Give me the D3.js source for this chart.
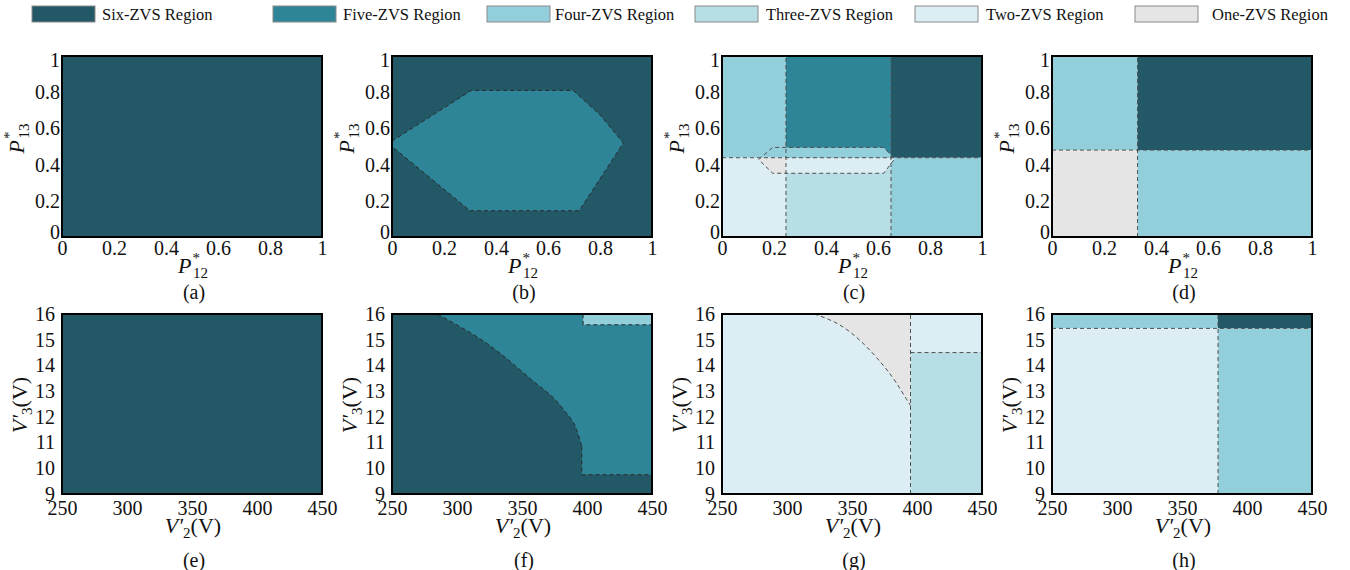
<!DOCTYPE html>
<html>
<head>
<meta charset="utf-8">
<script src="https://cdn.jsdelivr.net/npm/d3@7"></script>
<style>
  html, body { margin: 0; padding: 0; background: #fff; }
  svg { display: block; font-family: "Liberation Serif", "Times New Roman", serif; }
</style>
</head>
<body>
<script>
// ---- region classes (legend order) ----
const regionNames = ["Six-ZVS Region", "Five-ZVS Region", "Four-ZVS Region",
                     "Three-ZVS Region", "Two-ZVS Region", "One-ZVS Region"];
const regionFill = ["#235866", "#2f8598", "#93cfdb", "#b7dde5", "#dcedf3", "#e5e5e5"];
const SIX = 0, FIVE = 1, FOUR = 2, THREE = 3, TWO = 4, ONE = 5;

// ---- axis ticks ----
const p12Ticks = [0, 0.2, 0.4, 0.6, 0.8, 1];
const p13Ticks = [0, 0.2, 0.4, 0.6, 0.8, 1];
const v2Ticks = [250, 300, 350, 400, 450];
const v3Ticks = [9, 10, 11, 12, 13, 14, 15, 16];
const panelTags = ["(a)", "(b)", "(c)", "(d)", "(e)", "(f)", "(g)", "(h)"];

// ---- (b) five-ZVS island in the P12*-P13* plane ----
const islandB = [[0, 0.53], [0.305, 0.81], [0.697, 0.81], [0.80, 0.675], [0.89, 0.52],
                 [0.72, 0.145], [0.30, 0.145], [0, 0.50]];

// ---- (c) region boundaries ----
const splitP12C = [0.246, 0.65];
const splitP13C = 0.438;
const hexC = [[0.141, 0.428], [0.195, 0.495], [0.622, 0.495], [0.664, 0.432],
              [0.622, 0.352], [0.195, 0.352]];

// ---- (d) region boundaries ----
const splitP12D = 0.329;
const splitP13D = 0.48;

// ---- (f) six/five boundary in the V2'-V3' plane ----
const curveF = [[285, 16], [292, 15.8], [320, 14.96], [356, 13.5], [382, 12.28],
                [392, 11.5], [396, 10.85]];
const stepV3F = 9.75;
const boxF = [397, 15.58];

// ---- (g) one-ZVS wedge and boundaries ----
const curveG = [[321, 16], [343.5, 15.48], [369, 14.3], [384, 13.33], [392, 12.68], [395, 12.44]];
const splitV2G = 395;
const splitV3G = 14.5;

// ---- (h) boundaries ----
const splitV2H = 377.7;
const splitV3H = 15.44;

// ---- layout ----
const W = 1350, H = 570;
const colX = [62, 392, 722, 1052];
const rowY = [56, 314];
const rowH = [181, 180];
const PW = 260;
const FONT = 20;
const TITLE_FONT = 22;
const SUB_FONT = 15;
const DASH = "4,3";
const DASH_COLOR = "#505050";

const svg = d3.select("body").append("svg").attr("width", W).attr("height", H);
const defs = svg.append("defs");

// ---- legend ----
const legendSwatchX = [32, 273, 487, 695, 915, 1135];
const legendTextX = [102, 343, 555, 766, 986, 1212];
const legend = svg.append("g");
regionNames.forEach((name, i) => {
  legend.append("rect")
    .attr("x", legendSwatchX[i]).attr("y", 6).attr("width", 63).attr("height", 16)
    .attr("fill", regionFill[i]).attr("stroke", "#8a8a8a").attr("stroke-width", 1);
  legend.append("text")
    .attr("x", legendTextX[i]).attr("y", 20)
    .attr("font-size", 16.5).attr("fill", "#111").text(name);
});

function makePanel(col, row) {
  const id = "p" + row + col;
  const h = rowH[row];
  const g = svg.append("g").attr("transform", `translate(${colX[col]},${rowY[row]})`);
  const x = row === 0
    ? d3.scaleLinear().domain([0, 1]).range([0, PW])
    : d3.scaleLinear().domain([250, 450]).range([0, PW]);
  const y = row === 0
    ? d3.scaleLinear().domain([0, 1]).range([h, 0])
    : d3.scaleLinear().domain([9, 16]).range([h, 0]);
  defs.append("clipPath").attr("id", "clip-" + id)
    .append("rect").attr("width", PW).attr("height", h);
  const plot = g.append("g").attr("clip-path", `url(#clip-${id})`);
  const line = d3.line().x(d => x(d[0])).y(d => y(d[1]));
  return { id, col, row, g, plot, x, y, h, line };
}

function fillPoly(p, pts, cls, parent) {
  (parent || p.plot).append("path")
    .attr("d", p.line(pts) + "Z")
    .attr("fill", regionFill[cls]);
}
function fillRect(p, x0, x1, y0, y1, cls, parent) {
  fillPoly(p, [[x0, y0], [x1, y0], [x1, y1], [x0, y1]], cls, parent);
}
function dashed(p, pts, closed, curve, color) {
  const ln = curve ? d3.line().x(d => p.x(d[0])).y(d => p.y(d[1])).curve(curve) : p.line;
  p.plot.append("path")
    .attr("d", ln(pts) + (closed ? "Z" : ""))
    .attr("fill", "none").attr("stroke", color || DASH_COLOR)
    .attr("stroke-width", 1).attr("stroke-dasharray", DASH);
}

function finishPanel(p) {
  const { g, x, y, h, row, col } = p;
  // frame
  g.append("rect").attr("width", PW).attr("height", h)
    .attr("fill", "none").attr("stroke", "#000").attr("stroke-width", 2);

  // axes
  const xAxis = d3.axisBottom(x).tickValues(row === 0 ? p12Ticks : v2Ticks)
    .tickSize(0).tickPadding(row === 0 ? 4 : 7).tickFormat(d => String(d));
  const yAxis = d3.axisLeft(y).tickValues(row === 0 ? p13Ticks : v3Ticks)
    .tickSize(0).tickPadding(row === 0 ? 2 : 7).tickFormat(d => String(d));
  const gx = g.append("g").attr("transform", `translate(0,${h})`).call(xAxis);
  const gy = g.append("g").call(yAxis);
  [gx, gy].forEach(a => {
    a.select(".domain").remove();
    a.selectAll("text").attr("font-size", FONT).attr("fill", "#111")
      .attr("font-family", "Liberation Serif, serif");
  });
  if (row === 0) {
    gy.selectAll("text").attr("dy", d => d === 1 ? "0.53em" : d === 0 ? "0.06em" : "0.32em");
  }

  // x title
  const xt = g.append("text").attr("x", PW / 2 + 1).attr("y", row === 0 ? h + 36 : h + 39)
    .attr("text-anchor", "middle").attr("font-size", TITLE_FONT).attr("fill", "#111");
  if (row === 0) {
    xt.append("tspan").attr("font-style", "italic").text("P");
    xt.append("tspan").attr("font-size", SUB_FONT).attr("dy", -10).attr("dx", 1).text("*");
    xt.append("tspan").attr("font-size", SUB_FONT).attr("dx", -7).attr("dy", 15).text("12");
  } else {
    xt.append("tspan").attr("font-style", "italic").text("V′");
    xt.append("tspan").attr("font-size", SUB_FONT).attr("dy", 5).text("2");
    xt.append("tspan").attr("dy", -5).text("(V)");
  }

  // y title (rotated)
  const ty = row === 0 ? h / 2 - 8 : h / 2 + 1;
  const tx = row === 0 ? -38 : -35;
  const yt = g.append("text")
    .attr("transform", `translate(${tx},${ty}) rotate(-90)`)
    .attr("text-anchor", "middle").attr("font-size", TITLE_FONT).attr("fill", "#111");
  if (row === 0) {
    yt.append("tspan").attr("font-style", "italic").text("P");
    yt.append("tspan").attr("font-size", SUB_FONT).attr("dy", -10).attr("dx", 1).text("*");
    yt.append("tspan").attr("font-size", SUB_FONT).attr("dx", -7).attr("dy", 15).text("13");
  } else {
    yt.append("tspan").attr("font-style", "italic").text("V′");
    yt.append("tspan").attr("font-size", SUB_FONT).attr("dy", 5).text("3");
    yt.append("tspan").attr("dy", -5).text("(V)");
  }

  // panel tag
  g.append("text").attr("x", PW / 2 + 2).attr("y", row === 0 ? h + 62 : h + 73)
    .attr("text-anchor", "middle").attr("font-size", FONT).attr("fill", "#111")
    .text(panelTags[row * 4 + col]);
}

// ===== (a) =====
{
  const p = makePanel(0, 0);
  fillRect(p, 0, 1, 0, 1, SIX);
  finishPanel(p);
}

// ===== (b) =====
{
  const p = makePanel(1, 0);
  fillRect(p, 0, 1, 0, 1, SIX);
  fillPoly(p, islandB, FIVE);
  dashed(p, islandB, true, null, "#2a2a2a");
  finishPanel(p);
}

// ===== (c) =====
{
  const p = makePanel(2, 0);
  const [a, b] = splitP12C, s = splitP13C;
  fillRect(p, 0, a, s, 1, FOUR);
  fillRect(p, a, b, s, 1, FIVE);
  fillRect(p, b, 1, s, 1, SIX);
  fillRect(p, 0, a, 0, s, TWO);
  fillRect(p, a, b, 0, s, THREE);
  fillRect(p, b, 1, 0, s, FOUR);
  // inside the hexagonal band
  const hid = "hex-" + p.id;
  defs.append("clipPath").attr("id", hid)
    .append("path").attr("d", p.line(hexC) + "Z");
  const inner = p.plot.append("g").attr("clip-path", `url(#${hid})`);
  fillRect(p, 0, a, 0, s, ONE, inner);
  fillRect(p, a, 1, 0, s, TWO, inner);
  fillRect(p, a, b, s, 1, FOUR, inner);
  dashed(p, hexC, true);
  dashed(p, [[a, 0], [a, 1]]);
  dashed(p, [[b, 0], [b, 1]]);
  dashed(p, [[0, s], [1, s]]);
  finishPanel(p);
}

// ===== (d) =====
{
  const p = makePanel(3, 0);
  const a = splitP12D, s = splitP13D;
  fillRect(p, 0, a, s, 1, FOUR);
  fillRect(p, a, 1, s, 1, SIX);
  fillRect(p, 0, a, 0, s, ONE);
  fillRect(p, a, 1, 0, s, FOUR);
  dashed(p, [[a, 0], [a, 1]]);
  dashed(p, [[0, s], [1, s]]);
  finishPanel(p);
}

// ===== (e) =====
{
  const p = makePanel(0, 1);
  fillRect(p, 250, 450, 9, 16, SIX);
  finishPanel(p);
}

// ===== (f) =====
{
  const p = makePanel(1, 1);
  fillRect(p, 250, 450, 9, 16, FIVE);
  const end = curveF[curveF.length - 1];
  const curveLine = d3.line().x(d => p.x(d[0])).y(d => p.y(d[1])).curve(d3.curveMonotoneX);
  p.plot.append("path")
    .attr("d", "M" + p.x(250) + "," + p.y(16) + curveLine(curveF).replace(/^M/, "L") +
      p.line([[end[0], stepV3F], [450, stepV3F], [450, 9], [250, 9]]).replace(/^M/, "L") + "Z")
    .attr("fill", regionFill[SIX]);
  fillRect(p, boxF[0], 450, boxF[1], 16, FOUR);
  dashed(p, curveF, false, d3.curveMonotoneX, "#2a2a2a");
  dashed(p, [end, [end[0], stepV3F], [450, stepV3F]], false, null, "#2a2a2a");
  dashed(p, [[boxF[0], 16], [boxF[0], boxF[1]], [450, boxF[1]]], false, null, "#2a2a2a");
  finishPanel(p);
}

// ===== (g) =====
{
  const p = makePanel(2, 1);
  fillRect(p, 250, 450, 9, 16, TWO);
  fillRect(p, splitV2G, 450, 9, splitV3G, THREE);
  const curvePath = d3.line().x(d => p.x(d[0])).y(d => p.y(d[1])).curve(d3.curveMonotoneX)(curveG);
  p.plot.append("path")
    .attr("d", curvePath + "L" + p.x(splitV2G) + "," + p.y(16) + "Z")
    .attr("fill", regionFill[ONE]);
  dashed(p, curveG, false, d3.curveMonotoneX);
  dashed(p, [[splitV2G, 9], [splitV2G, 16]]);
  dashed(p, [[splitV2G, splitV3G], [450, splitV3G]]);
  finishPanel(p);
}

// ===== (h) =====
{
  const p = makePanel(3, 1);
  fillRect(p, 250, splitV2H, splitV3H, 16, FOUR);
  fillRect(p, splitV2H, 450, splitV3H, 16, SIX);
  fillRect(p, 250, splitV2H, 9, splitV3H, TWO);
  fillRect(p, splitV2H, 450, 9, splitV3H, FOUR);
  dashed(p, [[splitV2H, 9], [splitV2H, 16]]);
  dashed(p, [[250, splitV3H], [450, splitV3H]]);
  finishPanel(p);
}
</script>
</body>
</html>
